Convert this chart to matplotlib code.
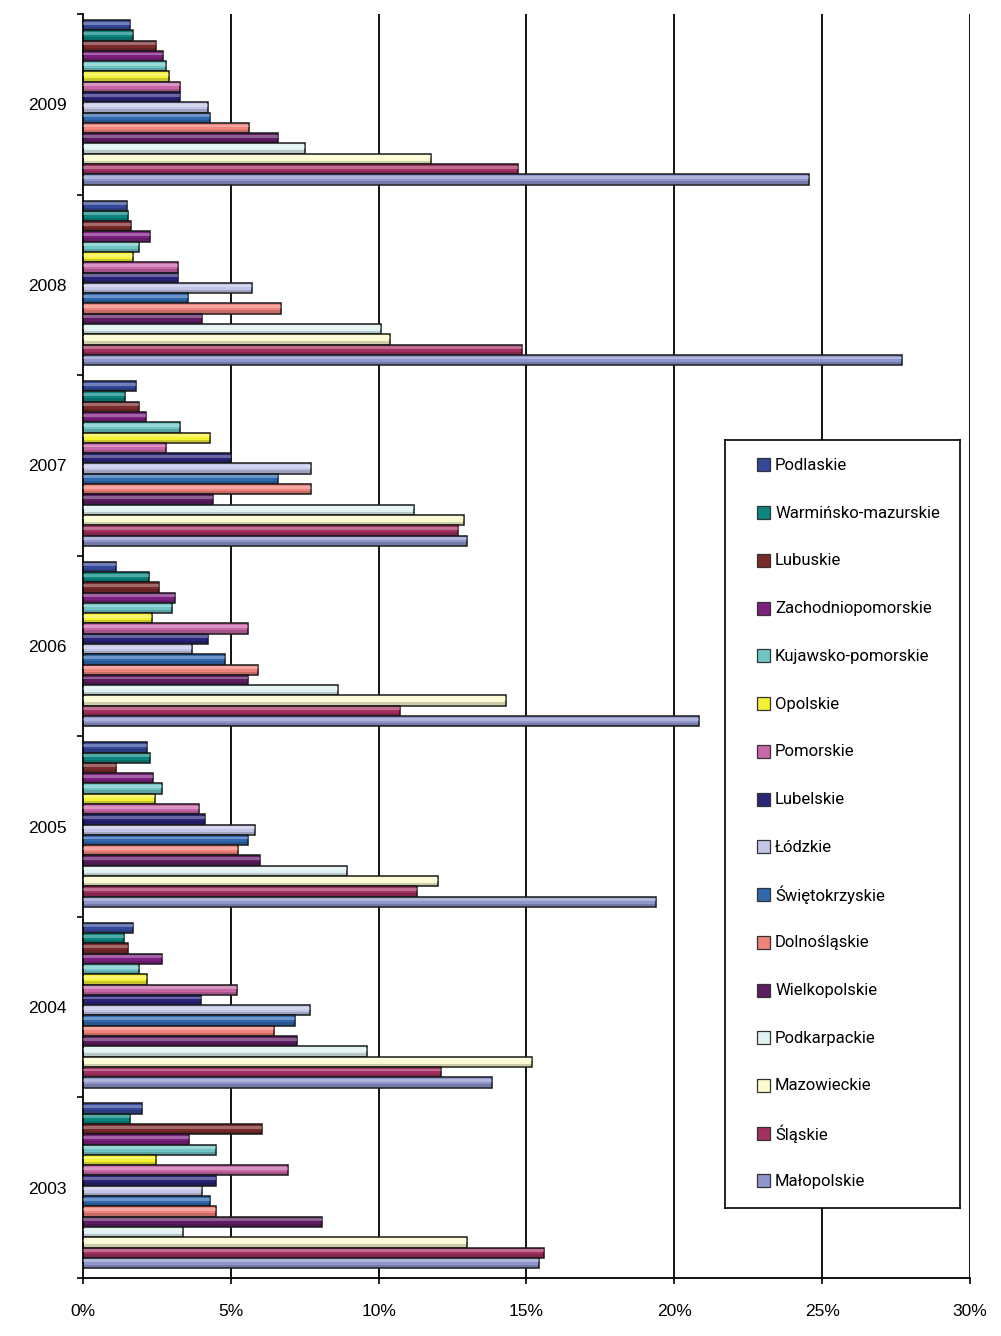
"""Horizontal grouped bars: regional shares by year (2003-2009)."""

import matplotlib
matplotlib.use("Agg")
import matplotlib.pyplot as plt
import matplotlib.patches as mpatches
import numpy as np

plt.rcParams["font.family"] = ["Liberation Sans", "DejaVu Sans"]

years = ["2009", "2008", "2007", "2006", "2005", "2004", "2003"]

regions = [
    "Podlaskie", "Warmińsko-mazurskie", "Lubuskie", "Zachodniopomorskie",
    "Kujawsko-pomorskie", "Opolskie", "Pomorskie", "Lubelskie", "Łódzkie",
    "Świętokrzyskie", "Dolnośląskie", "Wielkopolskie", "Podkarpackie",
    "Mazowieckie", "Śląskie", "Małopolskie",
]

colors = [
    "#34489a", "#0a8580", "#7b2a2a", "#7c2080", "#70c6c6", "#f4f235",
    "#c868a8", "#2a2478", "#c3c6e8", "#3068b0", "#f0837c", "#5e1c62",
    "#e0f2f2", "#fbfbcf", "#a23060", "#8e96cc",
]

# values in %, one list per year, order as in `regions`
v2009 = [1.59, 1.69, 2.47, 2.71, 2.81, 2.91, 3.28, 3.28, 4.23, 4.30, 5.62, 6.60, 7.52, 11.78, 14.70, 24.55]
v2008 = [1.48, 1.53, 1.63, 2.27, 1.90, 1.68, 3.23, 3.23, 5.71, 3.54, 6.70, 4.02, 10.09, 10.40, 14.85, 27.70]
v2007 = [1.79, 1.42, 1.90, 2.13, 3.28, 4.30, 2.81, 5.01, 7.72, 6.60, 7.72, 4.40, 11.21, 12.90, 12.70, 13.00]
v2006 = [1.12, 2.24, 2.57, 3.12, 3.01, 2.34, 5.59, 4.23, 3.69, 4.81, 5.93, 5.59, 8.64, 14.32, 10.73, 20.83]
v2005 = [2.17, 2.27, 1.12, 2.37, 2.68, 2.44, 3.93, 4.13, 5.82, 5.59, 5.25, 5.99, 8.94, 12.02, 11.31, 19.37]
v2004 = [1.69, 1.39, 1.52, 2.68, 1.90, 2.17, 5.21, 4.00, 7.69, 7.18, 6.47, 7.25, 9.61, 15.20, 12.12, 13.82]
v2003 = [2.01, 1.58, 6.07, 3.59, 4.49, 2.48, 6.93, 4.49, 4.01, 4.28, 4.49, 8.09, 3.39, 13.00, 15.59, 15.43]

values = [v2009, v2008, v2007, v2006, v2005, v2004, v2003]

fig = plt.figure(figsize=(10.01, 13.36), dpi=100)
ax = fig.add_axes([0.0829, 0.0434, 0.8861, 0.9461])

n = len(regions)
h = 0.912 / n
offset = 0.033

# vertical grid lines behind the bars
for gx in range(5, 31, 5):
    ax.axvline(gx, color="black", linewidth=1.3, zorder=0)

for gi, vals in enumerate(values):
    ys = gi + offset + (np.arange(n) + 0.5) * h
    ax.barh(ys, vals, height=h, color=colors, edgecolor="#1a1a1a",
            linewidth=1.1, zorder=2)
    # light band on top and dark band at the bottom: bevelled look
    ax.barh(ys - h * 0.2, vals, height=h * 0.28, color="white",
            alpha=0.3, linewidth=0, zorder=3)
    ax.barh(ys + h * 0.3, vals, height=h * 0.25, color="black",
            alpha=0.18, linewidth=0, zorder=3)

ax.set_xlim(0, 30)
ax.set_ylim(len(years), 0)

ax.set_xticks(range(0, 31, 5))
ax.set_xticklabels([f"{t}%" for t in range(0, 31, 5)], fontsize=12.5)
ax.tick_params(axis="x", length=4.5, width=1.2, pad=14)

ax.set_yticks(range(len(years) + 1))
ax.set_yticklabels([])
ax.tick_params(axis="y", which="major", length=4, width=1.2)
ax.set_yticks(np.arange(len(years)) + 0.5, minor=True)
ax.set_yticklabels(years, minor=True, fontsize=12.5)
ax.tick_params(axis="y", which="minor", length=0, pad=11.5)

for side in ("top", "right"):
    ax.spines[side].set_visible(False)
for side in ("left", "bottom"):
    ax.spines[side].set_linewidth(1.3)

# legend box drawn in its own axes
lax = fig.add_axes([0.7243, 0.0958, 0.2348, 0.5749])
lax.set_xlim(0, 235)
lax.set_ylim(768, 0)
lax.set_xticks([])
lax.set_yticks([])
for sp in lax.spines.values():
    sp.set_linewidth(1.2)
for i, (c, r) in enumerate(zip(colors, regions)):
    yc = 25 + 47.73 * i
    lax.add_patch(mpatches.Rectangle((32, yc - 6.5), 13, 13, facecolor=c,
                                     edgecolor="#333333", linewidth=0.9))
    lax.text(50, yc + 0.5, r, fontsize=12, va="center", ha="left",
             family=["Roboto", "DejaVu Sans"])

fig.savefig("out.png", dpi=100)
